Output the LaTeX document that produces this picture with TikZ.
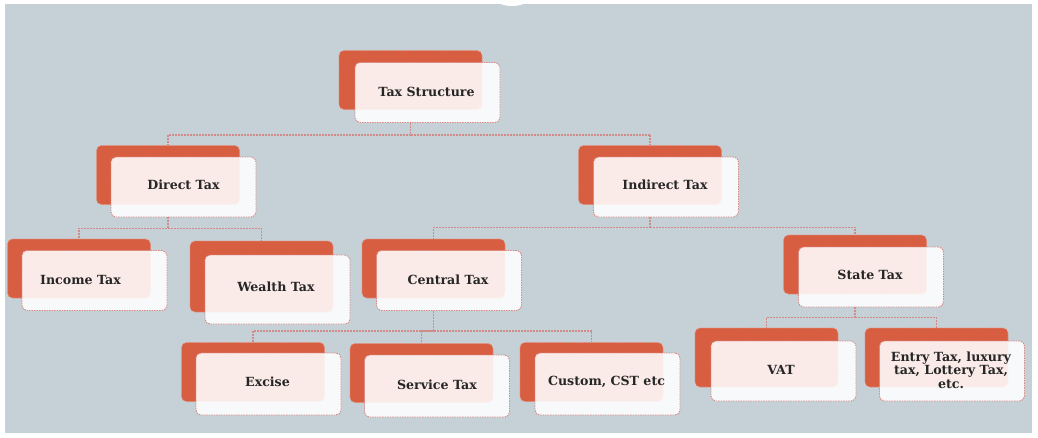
\documentclass[tikz,border=0pt]{standalone}
\usepackage{fontspec}
\setmainfont{DejaVu Serif}
\definecolor{bgc}{HTML}{C5D1D7}
\definecolor{backred}{HTML}{D85E42}
\definecolor{backedge}{HTML}{E38C78}
\definecolor{frontedge}{HTML}{D88A84}
\definecolor{connc}{HTML}{CF8C88}
\definecolor{textc}{HTML}{262626}
\begin{document}
\begin{tikzpicture}[x=1pt,y=-1pt,
  backbox/.style={rectangle, rounded corners=5pt, fill=backred, draw=backedge, dash pattern=on 1.5pt off 1pt, line width=0.6pt, minimum width=143pt, minimum height=59pt, inner sep=0pt},
  frontbox/.style={rectangle, rounded corners=5pt, fill=white, fill opacity=0.88, draw=frontedge, draw opacity=1, dash pattern=on 1.5pt off 1pt, line width=0.9pt, minimum width=145pt, minimum height=60pt, inner sep=0pt},
  lbl/.style={font=\bfseries\fontsize{12.6}{13.6}\selectfont, align=center, text=textc, inner sep=0pt},
  conn/.style={draw=connc, line width=1.3pt, dash pattern=on 2pt off 1pt}]
\useasboundingbox (0,0) rectangle (1038,437);
\fill[bgc] (5,4) rectangle (1032,433);
\fill[white] (512,1) ellipse (14 and 5);

% back boxes
\node[backbox] (tsb) at (410.5,80) {};
\node[backbox] (dtb) at (168,175) {};
\node[backbox] (itb) at (650,175) {};
\node[backbox] (incb) at (79,268.5) {};
\node[backbox, minimum height=71pt] (wtb) at (261.5,276.5) {};
\node[backbox] (ctb) at (433.5,268.5) {};
\node[backbox] (stb) at (855,264.5) {};
\node[backbox] (vatb) at (766.5,357.5) {};
\node[backbox] (enb) at (936.5,357.5) {};
\node[backbox] (exb) at (253,372) {};
\node[backbox] (svb) at (421.5,373) {};
\node[backbox] (cub) at (591.5,372) {};

% front boxes
\node[frontbox] (tsf) at (427.5,92.5) {};
\node[frontbox] (dtf) at (183.5,187) {};
\node[frontbox] (itf) at (666,187) {};
\node[frontbox] (incf) at (94.5,280.5) {};
\node[frontbox, minimum height=69pt] (wtf) at (277.5,289.5) {};
\node[frontbox] (ctf) at (449,280.5) {};
\node[frontbox] (stf) at (871,277) {};
\node[frontbox] (vatf) at (783.5,371) {};
\node[frontbox] (enf) at (952,371) {};
\node[frontbox, minimum height=62pt] (exf) at (268.5,384) {};
\node[frontbox, minimum height=62pt] (svf) at (437,386) {};
\node[frontbox, minimum height=62pt] (cuf) at (607.5,384) {};

% labels
\node[lbl] (tst) at (426.5,92) {Tax Structure};
\node[lbl] (dtt) at (183.5,185) {Direct Tax};
\node[lbl] (itt) at (665,185) {Indirect Tax};
\node[lbl] (inct) at (80.5,280) {Income Tax};
\node[lbl] (wtt) at (276,287) {Wealth Tax};
\node[lbl] (ctt) at (448,280) {Central Tax};
\node[lbl] (stt) at (870,275) {State Tax};
\node[lbl] (vatt) at (781,370) {VAT};
\node[lbl] (ent) at (951,370) {Entry Tax, luxury\\tax, Lottery Tax,\\etc.};
\node[lbl] (ext) at (267.5,382) {Excise};
\node[lbl] (svt) at (437,385) {Service Tax};
\node[lbl] (cut) at (606.5,382) {Custom, CST etc};

% connectors
\draw[conn] (tsb.center |- tsf.south) -- ++(0,12) coordinate (j0) -| (dtb.north);
\draw[conn] (j0) -| (itb.north);
\draw[conn] (dtb.center |- dtf.south) -- ++(0,11) coordinate (j1) -| (incb.north);
\draw[conn] (j1) -| (wtb.north);
\draw[conn] (itb.center |- itf.south) -- ++(0,10) coordinate (j2) -| (ctb.north);
\draw[conn] (j2) -| (stb.north);
\draw[conn] (ctb.center |- ctf.south) -- ++(0,20) coordinate (j3) -| (exb.north);
\draw[conn] (j3) -| (svb.north);
\draw[conn] (j3) -| (cub.north);
\draw[conn] (stb.center |- stf.south) -- ++(0,10) coordinate (j4) -| (vatb.north);
\draw[conn] (j4) -| (enb.north);
\end{tikzpicture}
\end{document}
